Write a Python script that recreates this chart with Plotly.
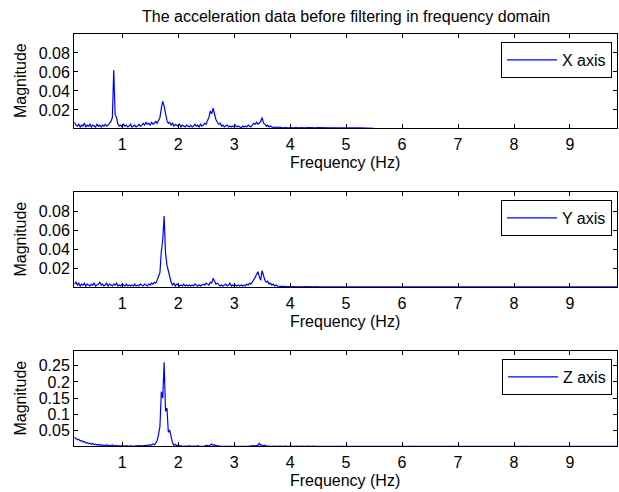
import numpy as np
import plotly.graph_objects as go

# ---------------- data ----------------
f_start = 0.15
f_step = 0.025

x_axis_mag = [
    0.007, 0.004, 0.003, 0.005, 0.002, 0.004, 0.003, 0.006, 0.002, 0.004,
    0.003, 0.005, 0.002, 0.004, 0.003, 0.002, 0.005, 0.003, 0.004, 0.002,
    0.004, 0.003, 0.005, 0.003, 0.004, 0.006, 0.008, 0.012, 0.062, 0.015,
    0.012, 0.005, 0.003, 0.004, 0.002, 0.005, 0.003, 0.004, 0.002, 0.003,
    0.005, 0.002, 0.003, 0.004, 0.002, 0.003, 0.005, 0.003, 0.004, 0.006,
    0.004, 0.007, 0.005, 0.006, 0.004, 0.007, 0.005, 0.006, 0.008, 0.006,
    0.009, 0.012, 0.022, 0.029, 0.024, 0.015, 0.009, 0.006, 0.007, 0.004,
    0.006, 0.003, 0.005, 0.004, 0.003, 0.005, 0.002, 0.004, 0.003, 0.002,
    0.004, 0.003, 0.002, 0.004, 0.002, 0.003, 0.005, 0.003, 0.004, 0.002,
    0.005, 0.003, 0.004, 0.006, 0.005, 0.009, 0.012, 0.019, 0.016, 0.022,
    0.014, 0.010, 0.007, 0.005, 0.006, 0.003, 0.004, 0.002, 0.003, 0.004,
    0.002, 0.003, 0.002, 0.003, 0.002, 0.004, 0.002, 0.003, 0.002, 0.001,
    0.003, 0.002, 0.003, 0.002, 0.004, 0.003, 0.002, 0.004, 0.006, 0.005,
    0.007, 0.005, 0.006, 0.008, 0.012, 0.006, 0.005, 0.003, 0.004, 0.002,
    0.003, 0.002, 0.0015, 0.002, 0.0015, 0.0015, 0.002, 0.0015, 0.0015, 0.0012,
    0.0015, 0.0012, 0.0015, 0.0012, 0.0015, 0.0012, 0.0013, 0.0012, 0.0015, 0.0012,
    0.0013, 0.0012, 0.0014, 0.0012, 0.0013, 0.0012, 0.0014, 0.0012, 0.0013, 0.0012,
    0.0013, 0.0012, 0.0013, 0.0012,
]

y_axis_mag = [
    0.004, 0.006, 0.003, 0.005, 0.002, 0.004, 0.003, 0.005, 0.002, 0.004,
    0.003, 0.002, 0.004, 0.003, 0.005, 0.002, 0.003, 0.004, 0.006, 0.003,
    0.004, 0.002, 0.003, 0.005, 0.002, 0.004, 0.003, 0.002, 0.004, 0.003,
    0.005, 0.002, 0.003, 0.002, 0.004, 0.003, 0.002, 0.004, 0.002, 0.003,
    0.002, 0.003, 0.002, 0.004, 0.002, 0.003, 0.002, 0.004, 0.003, 0.002,
    0.004, 0.003, 0.002, 0.004, 0.003, 0.005, 0.004, 0.006, 0.005, 0.008,
    0.012, 0.016, 0.038, 0.050, 0.075, 0.036, 0.024, 0.018, 0.011, 0.006,
    0.003, 0.005, 0.002, 0.004, 0.003, 0.002, 0.003, 0.002, 0.004, 0.002,
    0.003, 0.002, 0.003, 0.002, 0.003, 0.002, 0.004, 0.003, 0.002, 0.003,
    0.002, 0.003, 0.004, 0.003, 0.005, 0.004, 0.003, 0.006, 0.005, 0.010,
    0.006, 0.004, 0.005, 0.003, 0.002, 0.003, 0.002, 0.003, 0.004, 0.002,
    0.003, 0.005, 0.002, 0.003, 0.002, 0.003, 0.002, 0.003, 0.002, 0.003,
    0.002, 0.003, 0.002, 0.004, 0.003, 0.005, 0.004, 0.006, 0.008, 0.011,
    0.014, 0.017, 0.012, 0.008, 0.018, 0.013, 0.008, 0.006, 0.007, 0.004,
    0.005, 0.003, 0.004, 0.002, 0.003, 0.002, 0.0018, 0.002, 0.0016, 0.0014,
    0.0016, 0.0014, 0.0013, 0.0014, 0.0013, 0.0012, 0.0013, 0.0012, 0.0013, 0.0012,
    0.0013, 0.0012, 0.0013, 0.0012, 0.0013, 0.0012, 0.0013, 0.0012, 0.0013, 0.0012,
    0.0013, 0.0012, 0.0013, 0.0012,
]

z_axis_mag = [
    0.030, 0.026, 0.022, 0.024, 0.018, 0.020, 0.015, 0.017, 0.012, 0.014,
    0.010, 0.012, 0.008, 0.011, 0.007, 0.009, 0.006, 0.008, 0.005, 0.007,
    0.005, 0.006, 0.004, 0.007, 0.004, 0.005, 0.003, 0.006, 0.004, 0.003,
    0.005, 0.003, 0.004, 0.003, 0.005, 0.003, 0.002, 0.004, 0.003, 0.002,
    0.004, 0.002, 0.003, 0.002, 0.004, 0.003, 0.005, 0.003, 0.004, 0.003,
    0.005, 0.004, 0.006, 0.005, 0.007, 0.006, 0.009, 0.007, 0.012, 0.020,
    0.038, 0.063, 0.170, 0.150, 0.260, 0.110, 0.120, 0.045, 0.052, 0.028,
    0.012, 0.005, 0.008, 0.004, 0.006, 0.003, 0.004, 0.002, 0.003, 0.002,
    0.003, 0.002, 0.004, 0.002, 0.003, 0.002, 0.003, 0.002, 0.004, 0.003,
    0.002, 0.003, 0.002, 0.003, 0.005, 0.004, 0.003, 0.006, 0.009, 0.005,
    0.007, 0.004, 0.003, 0.002, 0.003, 0.002, 0.002, 0.003, 0.002, 0.002,
    0.003, 0.002, 0.002, 0.003, 0.002, 0.002, 0.003, 0.002, 0.002, 0.003,
    0.002, 0.002, 0.003, 0.002, 0.002, 0.003, 0.002, 0.003, 0.004, 0.003,
    0.005, 0.004, 0.012, 0.005, 0.006, 0.004, 0.005, 0.003, 0.004, 0.003,
    0.002, 0.003, 0.002, 0.003, 0.002, 0.003, 0.002, 0.003, 0.002, 0.003,
    0.002, 0.003, 0.002, 0.003, 0.002, 0.003, 0.002, 0.003, 0.002, 0.003,
    0.002, 0.003, 0.002, 0.003, 0.002, 0.003, 0.002, 0.003, 0.002, 0.003,
    0.002, 0.003, 0.002, 0.003,
]

# high-frequency tail (4.5 Hz upward, 0.25 Hz spacing), near zero
tail_freq = [4.5, 4.75, 5.0, 5.25, 5.5, 5.75, 6.0, 6.25, 6.5, 6.75, 7.0, 7.25,
             7.5, 7.75, 8.0, 8.25, 8.5, 8.75, 9.0, 9.25, 9.5, 9.75, 9.9]
x_tail = [0.0013, 0.0012, 0.0013, 0.0012, 0.0005, 0.0004, 0.0004, 0.0004, 0.0004, 0.0004,
          0.0004, 0.0004, 0.0004, 0.0004, 0.0004, 0.0004, 0.0004, 0.0004, 0.0004, 0.0004,
          0.0004, 0.0004, 0.0004]
y_tail = [0.0012, 0.0012, 0.0012, 0.0012, 0.0012, 0.0012, 0.0012, 0.0012, 0.0012, 0.0012,
          0.0012, 0.0012, 0.0012, 0.0012, 0.0012, 0.0012, 0.0012, 0.0012, 0.0012, 0.0012,
          0.0012, 0.0012, 0.0012]
z_tail = [0.002, 0.002, 0.002, 0.002, 0.002, 0.002, 0.002, 0.002, 0.002, 0.002,
          0.002, 0.002, 0.002, 0.002, 0.002, 0.002, 0.002, 0.002, 0.002, 0.002,
          0.002, 0.002, 0.002]

series_names = ["X axis", "Y axis", "Z axis"]
x_ticks = [1, 2, 3, 4, 5, 6, 7, 8, 9]
y_ticks_xy = [0.02, 0.04, 0.06, 0.08]
y_ticks_z = [0.05, 0.1, 0.15, 0.2, 0.25]

title_text = "The acceleration data before filtering in frequency domain"
xlabel = "Frequency (Hz)"
ylabel = "Magnitude"


def full(vals, tail_vals):
    fr = list(f_start + f_step * np.arange(len(vals))) + tail_freq
    return fr, list(vals) + tail_vals


W, H = 619, 492
FONT = "Liberation Sans, Arial, sans-serif"
FS = 16

# pixel boxes of the three axes (left, right, top, bottom)
L, R = 74, 617
boxes = [(34, 128), (192, 287), (351, 446)]
yranges = [[0.001, 0.1], [0.001, 0.1], [0.003, 0.295]]
yticks = [y_ticks_xy, y_ticks_xy, y_ticks_z]
legend_pos = [(612, 42), (612, 200), (612, 359)]

fig = go.Figure()
data = [(x_axis_mag, x_tail), (y_axis_mag, y_tail), (z_axis_mag, z_tail)]
for i, (vals, tl) in enumerate(data):
    fr, mg = full(vals, tl)
    sfx = "" if i == 0 else str(i + 1)
    fig.add_trace(go.Scatter(
        x=fr, y=mg, mode="lines", name=series_names[i],
        line=dict(color="#0000ff", width=1.2),
        xaxis="x" + sfx, yaxis="y" + sfx,
        legend="legend" + sfx, showlegend=True,
    ))

layout = dict(
    width=W, height=H, autosize=False,
    margin=dict(l=0, r=0, t=0, b=0),
    paper_bgcolor="white", plot_bgcolor="white",
    font=dict(family=FONT, size=FS, color="black"),
)

annotations = [dict(text=title_text, x=346 / W, y=1 - 17 / H, xref="paper", yref="paper",
                    showarrow=False, xanchor="center", yanchor="middle",
                    font=dict(family=FONT, size=FS, color="black"))]

for i, (top, bot) in enumerate(boxes):
    sfx = "" if i == 0 else str(i + 1)
    xa = dict(
        domain=[L / W, R / W], range=[0.14, 9.84],
        tickvals=x_ticks, ticks="inside", ticklen=4, tickcolor="black",
        showline=True, linecolor="black", linewidth=1, mirror="ticks",
        showgrid=False, zeroline=False, anchor="y" + sfx,
        tickfont=dict(family=FONT, size=FS, color="black"),
        ticklabelstandoff=2,
    )
    ya = dict(
        domain=[1 - bot / H, 1 - top / H], range=yranges[i],
        tickvals=yticks[i], ticks="inside", ticklen=4, tickcolor="black",
        showline=True, linecolor="black", linewidth=1, mirror="ticks",
        showgrid=False, zeroline=False, anchor="x" + sfx,
        tickfont=dict(family=FONT, size=FS, color="black"),
    )
    layout["xaxis" + sfx] = xa
    layout["yaxis" + sfx] = ya
    lx, ly = legend_pos[i]
    layout["legend" + sfx] = dict(
        x=lx / W, y=1 - ly / H, xanchor="right", yanchor="top",
        xref="paper", yref="paper",
        bgcolor="white", bordercolor="black", borderwidth=1,
        font=dict(family=FONT, size=FS, color="black"),
        itemwidth=50,
    )
    annotations.append(dict(text=xlabel, x=345 / W, y=1 - (bot + 34) / H,
                            xref="paper", yref="paper", showarrow=False,
                            xanchor="center", yanchor="middle",
                            font=dict(family=FONT, size=FS, color="black")))
    annotations.append(dict(text=ylabel, x=20 / W, y=1 - (top + bot) / 2 / H,
                            xref="paper", yref="paper", showarrow=False,
                            xanchor="center", yanchor="middle", textangle=-90,
                            font=dict(family=FONT, size=FS, color="black")))

layout["annotations"] = annotations
fig.update_layout(**layout)
fig.write_html("out.html")
